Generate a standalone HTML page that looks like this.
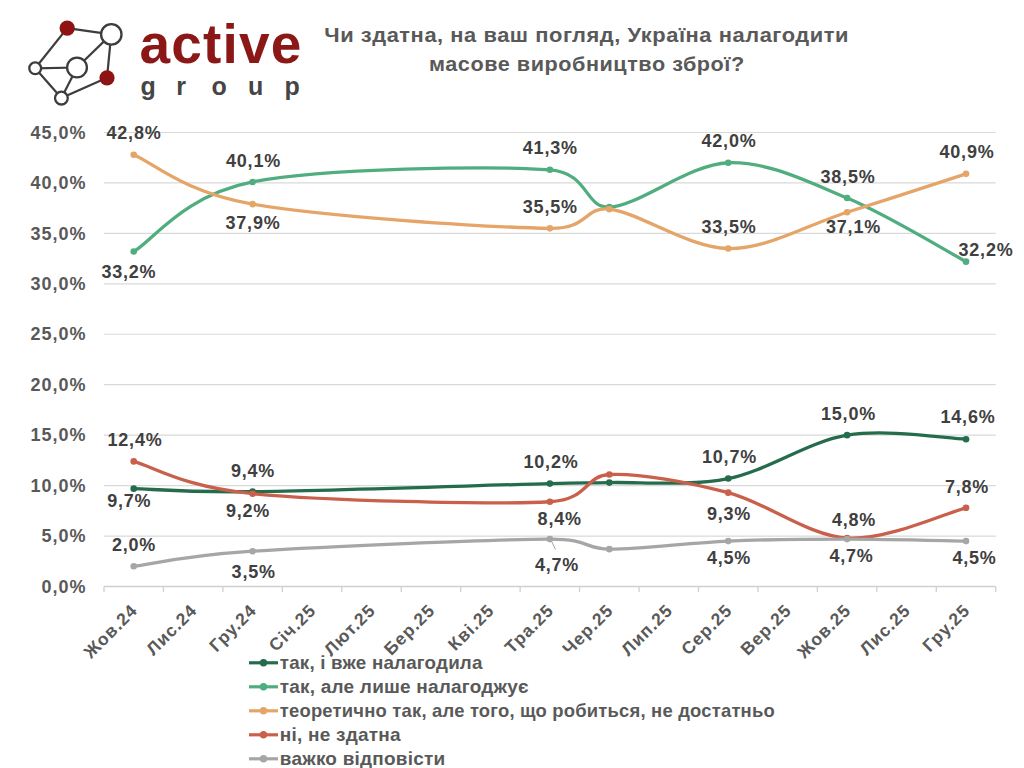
<!DOCTYPE html>
<html><head><meta charset="utf-8">
<style>
html,body{margin:0;padding:0;background:#fff;}
body{width:1024px;height:768px;overflow:hidden;position:relative;}
svg{position:absolute;left:0;top:0;}
text{font-family:"Liberation Sans",sans-serif;font-weight:bold;}
.ax{font-size:18px;fill:#595959;letter-spacing:1px;}
.xl{font-size:17.5px;fill:#595959;letter-spacing:1px;}
.dl{font-size:18px;fill:#404040;letter-spacing:0.8px;}
.lg{font-size:18px;fill:#595959;letter-spacing:0.6px;}
.ti{font-size:20px;fill:#595959;letter-spacing:0.5px;}
.la{font-size:55px;fill:#8b1717;letter-spacing:1.2px;}
.lgp{font-size:25px;fill:#454545;font-weight:bold;}
</style></head><body>
<svg width="1024" height="768" viewBox="0 0 1024 768">

<g stroke="#3d3d3d" stroke-width="2.2" fill="none">
<line x1="67.2" y1="28.1" x2="111.2" y2="34.4"/>
<line x1="67.2" y1="28.1" x2="35.2" y2="68.3"/>
<line x1="35.2" y1="68.3" x2="77" y2="67.5"/>
<line x1="77" y1="67.5" x2="111.2" y2="34.4"/>
<line x1="111.2" y1="34.4" x2="107" y2="77.8"/>
<line x1="35.2" y1="68.3" x2="61.4" y2="98.1"/>
<line x1="77" y1="67.5" x2="61.4" y2="98.1"/>
<line x1="61.4" y1="98.1" x2="107" y2="77.8"/>
</g>
<circle cx="67.2" cy="28.1" r="7.7" fill="#8e1414"/>
<circle cx="107" cy="77.8" r="7.6" fill="#8e1414"/>
<circle cx="111.3" cy="34.4" r="10.2" fill="#fff" stroke="#3d3d3d" stroke-width="2.3"/>
<circle cx="77" cy="67.5" r="9.9" fill="#fff" stroke="#3d3d3d" stroke-width="2.3"/>
<circle cx="35.2" cy="68.3" r="5.9" fill="#fff" stroke="#3d3d3d" stroke-width="2.3"/>
<circle cx="61.4" cy="98.1" r="6.4" fill="#fff" stroke="#3d3d3d" stroke-width="2.3"/>
<text x="139.5" y="62.7" class="la">active</text>
<text x="140.4 176.3 211.6 248 284.6" y="95.2" class="lgp">group</text>

<text x="586.65" y="41.6" class="ti" text-anchor="middle" transform="translate(586.65 0) scale(1.0943 1) translate(-586.65 0)">Чи здатна, на ваш погляд, Україна налагодити</text>
<text x="586.9" y="71.2" class="ti" text-anchor="middle" transform="translate(586.9 0) scale(1.082 1) translate(-586.9 0)">масове виробництво зброї?</text>
<line x1="104" y1="536.05" x2="995.7" y2="536.05" stroke="#d9d9d9" stroke-width="1.2"/>
<line x1="104" y1="485.61" x2="995.7" y2="485.61" stroke="#d9d9d9" stroke-width="1.2"/>
<line x1="104" y1="435.16" x2="995.7" y2="435.16" stroke="#d9d9d9" stroke-width="1.2"/>
<line x1="104" y1="384.72" x2="995.7" y2="384.72" stroke="#d9d9d9" stroke-width="1.2"/>
<line x1="104" y1="334.27" x2="995.7" y2="334.27" stroke="#d9d9d9" stroke-width="1.2"/>
<line x1="104" y1="283.83" x2="995.7" y2="283.83" stroke="#d9d9d9" stroke-width="1.2"/>
<line x1="104" y1="233.38" x2="995.7" y2="233.38" stroke="#d9d9d9" stroke-width="1.2"/>
<line x1="104" y1="182.94" x2="995.7" y2="182.94" stroke="#d9d9d9" stroke-width="1.2"/>
<line x1="104" y1="132.50" x2="995.7" y2="132.50" stroke="#d9d9d9" stroke-width="1.2"/>
<line x1="104" y1="586.50" x2="995.7" y2="586.50" stroke="#d0d0d0" stroke-width="1.4"/>
<line x1="104.00" y1="586.50" x2="104.00" y2="592.00" stroke="#d0d0d0" stroke-width="1.3"/>
<line x1="163.45" y1="586.50" x2="163.45" y2="592.00" stroke="#d0d0d0" stroke-width="1.3"/>
<line x1="222.90" y1="586.50" x2="222.90" y2="592.00" stroke="#d0d0d0" stroke-width="1.3"/>
<line x1="282.35" y1="586.50" x2="282.35" y2="592.00" stroke="#d0d0d0" stroke-width="1.3"/>
<line x1="341.80" y1="586.50" x2="341.80" y2="592.00" stroke="#d0d0d0" stroke-width="1.3"/>
<line x1="401.25" y1="586.50" x2="401.25" y2="592.00" stroke="#d0d0d0" stroke-width="1.3"/>
<line x1="460.70" y1="586.50" x2="460.70" y2="592.00" stroke="#d0d0d0" stroke-width="1.3"/>
<line x1="520.15" y1="586.50" x2="520.15" y2="592.00" stroke="#d0d0d0" stroke-width="1.3"/>
<line x1="579.60" y1="586.50" x2="579.60" y2="592.00" stroke="#d0d0d0" stroke-width="1.3"/>
<line x1="639.05" y1="586.50" x2="639.05" y2="592.00" stroke="#d0d0d0" stroke-width="1.3"/>
<line x1="698.50" y1="586.50" x2="698.50" y2="592.00" stroke="#d0d0d0" stroke-width="1.3"/>
<line x1="757.95" y1="586.50" x2="757.95" y2="592.00" stroke="#d0d0d0" stroke-width="1.3"/>
<line x1="817.40" y1="586.50" x2="817.40" y2="592.00" stroke="#d0d0d0" stroke-width="1.3"/>
<line x1="876.85" y1="586.50" x2="876.85" y2="592.00" stroke="#d0d0d0" stroke-width="1.3"/>
<line x1="936.30" y1="586.50" x2="936.30" y2="592.00" stroke="#d0d0d0" stroke-width="1.3"/>
<line x1="995.75" y1="586.50" x2="995.75" y2="592.00" stroke="#d0d0d0" stroke-width="1.3"/>
<text x="86.5" y="592.70" class="ax" text-anchor="end">0,0%</text>
<text x="86.5" y="542.25" class="ax" text-anchor="end">5,0%</text>
<text x="86.5" y="491.81" class="ax" text-anchor="end">10,0%</text>
<text x="86.5" y="441.36" class="ax" text-anchor="end">15,0%</text>
<text x="86.5" y="390.92" class="ax" text-anchor="end">20,0%</text>
<text x="86.5" y="340.47" class="ax" text-anchor="end">25,0%</text>
<text x="86.5" y="290.03" class="ax" text-anchor="end">30,0%</text>
<text x="86.5" y="239.58" class="ax" text-anchor="end">35,0%</text>
<text x="86.5" y="189.14" class="ax" text-anchor="end">40,0%</text>
<text x="86.5" y="138.69" class="ax" text-anchor="end">45,0%</text>
<text x="138.72" y="611.50" class="xl" text-anchor="end" transform="rotate(-45 138.72 611.50)">Жов.24</text>
<text x="198.18" y="611.50" class="xl" text-anchor="end" transform="rotate(-45 198.18 611.50)">Лис.24</text>
<text x="257.62" y="611.50" class="xl" text-anchor="end" transform="rotate(-45 257.62 611.50)">Гру.24</text>
<text x="317.08" y="611.50" class="xl" text-anchor="end" transform="rotate(-45 317.08 611.50)">Січ.25</text>
<text x="376.53" y="611.50" class="xl" text-anchor="end" transform="rotate(-45 376.53 611.50)">Лют.25</text>
<text x="435.98" y="611.50" class="xl" text-anchor="end" transform="rotate(-45 435.98 611.50)">Бер.25</text>
<text x="495.43" y="611.50" class="xl" text-anchor="end" transform="rotate(-45 495.43 611.50)">Кві.25</text>
<text x="554.88" y="611.50" class="xl" text-anchor="end" transform="rotate(-45 554.88 611.50)">Тра.25</text>
<text x="614.33" y="611.50" class="xl" text-anchor="end" transform="rotate(-45 614.33 611.50)">Чер.25</text>
<text x="673.77" y="611.50" class="xl" text-anchor="end" transform="rotate(-45 673.77 611.50)">Лип.25</text>
<text x="733.23" y="611.50" class="xl" text-anchor="end" transform="rotate(-45 733.23 611.50)">Сер.25</text>
<text x="792.68" y="611.50" class="xl" text-anchor="end" transform="rotate(-45 792.68 611.50)">Вер.25</text>
<text x="852.12" y="611.50" class="xl" text-anchor="end" transform="rotate(-45 852.12 611.50)">Жов.25</text>
<text x="911.58" y="611.50" class="xl" text-anchor="end" transform="rotate(-45 911.58 611.50)">Лис.25</text>
<text x="971.03" y="611.50" class="xl" text-anchor="end" transform="rotate(-45 971.03 611.50)">Гру.25</text>
<path d="M133.72,488.64 C153.54,489.14 183.27,492.50 252.62,491.66 C321.98,490.82 490.43,485.11 549.88,483.59 C589.11,482.59 584.36,483.29 609.33,482.58 C639.05,481.74 688.59,486.45 728.23,478.55 C767.86,470.64 807.49,441.72 847.12,435.16 C886.76,428.61 946.21,438.53 966.03,439.20" fill="none" stroke="#246c4b" stroke-width="3.3" stroke-linecap="round"/>
<circle cx="133.72" cy="488.64" r="3.3" fill="#246c4b"/>
<circle cx="252.62" cy="491.66" r="3.3" fill="#246c4b"/>
<circle cx="549.88" cy="483.59" r="3.3" fill="#246c4b"/>
<circle cx="609.33" cy="482.58" r="3.3" fill="#246c4b"/>
<circle cx="728.23" cy="478.55" r="3.3" fill="#246c4b"/>
<circle cx="847.12" cy="435.16" r="3.3" fill="#246c4b"/>
<circle cx="966.03" cy="439.20" r="3.3" fill="#246c4b"/>
<path d="M133.72,251.55 C153.54,239.94 183.27,195.55 252.62,181.93 C321.98,168.31 490.43,165.62 549.88,169.82 C589.11,172.60 584.36,208.14 609.33,207.15 C639.05,205.98 688.59,164.28 728.23,162.76 C767.86,161.25 807.49,181.59 847.12,198.07 C886.76,214.55 946.21,251.04 966.03,261.63" fill="none" stroke="#50ad80" stroke-width="3.3" stroke-linecap="round"/>
<circle cx="133.72" cy="251.55" r="3.3" fill="#50ad80"/>
<circle cx="252.62" cy="181.93" r="3.3" fill="#50ad80"/>
<circle cx="549.88" cy="169.82" r="3.3" fill="#50ad80"/>
<circle cx="609.33" cy="207.15" r="3.3" fill="#50ad80"/>
<circle cx="728.23" cy="162.76" r="3.3" fill="#50ad80"/>
<circle cx="847.12" cy="198.07" r="3.3" fill="#50ad80"/>
<circle cx="966.03" cy="261.63" r="3.3" fill="#50ad80"/>
<path d="M133.72,154.69 C153.54,162.93 183.27,191.85 252.62,204.13 C321.98,216.40 490.43,227.50 549.88,228.34 C589.11,228.90 584.36,206.35 609.33,209.17 C639.05,212.53 688.59,248.01 728.23,248.52 C767.86,249.02 807.49,224.64 847.12,212.20 C886.76,199.75 946.21,180.25 966.03,173.86" fill="none" stroke="#e6a568" stroke-width="3.3" stroke-linecap="round"/>
<circle cx="133.72" cy="154.69" r="3.3" fill="#e6a568"/>
<circle cx="252.62" cy="204.13" r="3.3" fill="#e6a568"/>
<circle cx="549.88" cy="228.34" r="3.3" fill="#e6a568"/>
<circle cx="609.33" cy="209.17" r="3.3" fill="#e6a568"/>
<circle cx="728.23" cy="248.52" r="3.3" fill="#e6a568"/>
<circle cx="847.12" cy="212.20" r="3.3" fill="#e6a568"/>
<circle cx="966.03" cy="173.86" r="3.3" fill="#e6a568"/>
<path d="M133.72,461.40 C153.54,466.78 183.27,486.96 252.62,493.68 C321.98,500.41 490.43,504.95 549.88,501.75 C589.11,499.64 584.36,475.78 609.33,474.51 C639.05,473.00 688.59,482.08 728.23,492.67 C767.86,503.27 807.49,535.55 847.12,538.07 C886.76,540.60 946.21,512.85 966.03,507.81" fill="none" stroke="#c9604b" stroke-width="3.3" stroke-linecap="round"/>
<circle cx="133.72" cy="461.40" r="3.3" fill="#c9604b"/>
<circle cx="252.62" cy="493.68" r="3.3" fill="#c9604b"/>
<circle cx="549.88" cy="501.75" r="3.3" fill="#c9604b"/>
<circle cx="609.33" cy="474.51" r="3.3" fill="#c9604b"/>
<circle cx="728.23" cy="492.67" r="3.3" fill="#c9604b"/>
<circle cx="847.12" cy="538.07" r="3.3" fill="#c9604b"/>
<circle cx="966.03" cy="507.81" r="3.3" fill="#c9604b"/>
<path d="M133.72,566.32 C153.54,563.80 183.27,555.73 252.62,551.19 C321.98,546.65 490.43,539.42 549.88,539.08 C589.11,538.86 584.36,548.89 609.33,549.17 C639.05,549.51 688.59,542.78 728.23,541.10 C767.86,539.42 807.49,539.08 847.12,539.08 C886.76,539.08 946.21,540.76 966.03,541.10" fill="none" stroke="#a6a6a6" stroke-width="3.3" stroke-linecap="round"/>
<circle cx="133.72" cy="566.32" r="3.3" fill="#a6a6a6"/>
<circle cx="252.62" cy="551.19" r="3.3" fill="#a6a6a6"/>
<circle cx="549.88" cy="539.08" r="3.3" fill="#a6a6a6"/>
<circle cx="609.33" cy="549.17" r="3.3" fill="#a6a6a6"/>
<circle cx="728.23" cy="541.10" r="3.3" fill="#a6a6a6"/>
<circle cx="847.12" cy="539.08" r="3.3" fill="#a6a6a6"/>
<circle cx="966.03" cy="541.10" r="3.3" fill="#a6a6a6"/>
<line x1="550.8" y1="539.8" x2="555.5" y2="549.5" stroke="#a6a6a6" stroke-width="1"/>
<text x="128.90" y="278.30" class="dl" text-anchor="middle">33,2%</text>
<text x="253.50" y="167.00" class="dl" text-anchor="middle">40,1%</text>
<text x="550.30" y="154.00" class="dl" text-anchor="middle">41,3%</text>
<text x="729.00" y="147.20" class="dl" text-anchor="middle">42,0%</text>
<text x="848.00" y="182.50" class="dl" text-anchor="middle">38,5%</text>
<text x="986.00" y="256.00" class="dl" text-anchor="middle">32,2%</text>
<text x="134.00" y="139.30" class="dl" text-anchor="middle">42,8%</text>
<text x="253.00" y="228.70" class="dl" text-anchor="middle">37,9%</text>
<text x="550.30" y="213.00" class="dl" text-anchor="middle">35,5%</text>
<text x="729.00" y="233.00" class="dl" text-anchor="middle">33,5%</text>
<text x="853.50" y="233.40" class="dl" text-anchor="middle">37,1%</text>
<text x="967.00" y="158.00" class="dl" text-anchor="middle">40,9%</text>
<text x="129.30" y="507.00" class="dl" text-anchor="middle">9,7%</text>
<text x="253.00" y="477.00" class="dl" text-anchor="middle">9,4%</text>
<text x="551.00" y="468.00" class="dl" text-anchor="middle">10,2%</text>
<text x="729.50" y="463.00" class="dl" text-anchor="middle">10,7%</text>
<text x="848.50" y="420.00" class="dl" text-anchor="middle">15,0%</text>
<text x="968.00" y="423.00" class="dl" text-anchor="middle">14,6%</text>
<text x="135.00" y="446.00" class="dl" text-anchor="middle">12,4%</text>
<text x="248.00" y="517.00" class="dl" text-anchor="middle">9,2%</text>
<text x="559.70" y="525.00" class="dl" text-anchor="middle">8,4%</text>
<text x="729.00" y="520.00" class="dl" text-anchor="middle">9,3%</text>
<text x="854.00" y="526.00" class="dl" text-anchor="middle">4,8%</text>
<text x="967.00" y="492.50" class="dl" text-anchor="middle">7,8%</text>
<text x="134.00" y="551.00" class="dl" text-anchor="middle">2,0%</text>
<text x="253.70" y="578.00" class="dl" text-anchor="middle">3,5%</text>
<text x="557.00" y="570.50" class="dl" text-anchor="middle">4,7%</text>
<text x="729.00" y="564.00" class="dl" text-anchor="middle">4,5%</text>
<text x="851.50" y="562.00" class="dl" text-anchor="middle">4,7%</text>
<text x="974.50" y="564.20" class="dl" text-anchor="middle">4,5%</text>
<line x1="249" y1="662.80" x2="278" y2="662.80" stroke="#246c4b" stroke-width="3.2"/>
<circle cx="263.5" cy="662.80" r="3.7" fill="#246c4b"/>
<text x="279.8" y="668.80" class="lg" style="letter-spacing:0.2px" transform="translate(279.8 0) scale(1.0425 1) translate(-279.8 0)">так, і вже налагодила</text>
<line x1="249" y1="686.80" x2="278" y2="686.80" stroke="#50ad80" stroke-width="3.2"/>
<circle cx="263.5" cy="686.80" r="3.7" fill="#50ad80"/>
<text x="279.8" y="692.80" class="lg" style="letter-spacing:0.2px" transform="translate(279.8 0) scale(1.0560 1) translate(-279.8 0)">так, але лише налагоджує</text>
<line x1="249" y1="710.80" x2="278" y2="710.80" stroke="#e6a568" stroke-width="3.2"/>
<circle cx="263.5" cy="710.80" r="3.7" fill="#e6a568"/>
<text x="279.8" y="716.80" class="lg" style="letter-spacing:0.2px" transform="translate(279.8 0) scale(1.0234 1) translate(-279.8 0)">теоретично так, але того, що робиться, не достатньо</text>
<line x1="249" y1="734.80" x2="278" y2="734.80" stroke="#c9604b" stroke-width="3.2"/>
<circle cx="263.5" cy="734.80" r="3.7" fill="#c9604b"/>
<text x="279.8" y="740.80" class="lg" style="letter-spacing:0.2px" transform="translate(279.8 0) scale(1.0580 1) translate(-279.8 0)">ні, не здатна</text>
<line x1="249" y1="758.80" x2="278" y2="758.80" stroke="#a6a6a6" stroke-width="3.2"/>
<circle cx="263.5" cy="758.80" r="3.7" fill="#a6a6a6"/>
<text x="279.8" y="764.80" class="lg" style="letter-spacing:0.2px" transform="translate(279.8 0) scale(1.0556 1) translate(-279.8 0)">важко відповісти</text>
</svg>
</body></html>
